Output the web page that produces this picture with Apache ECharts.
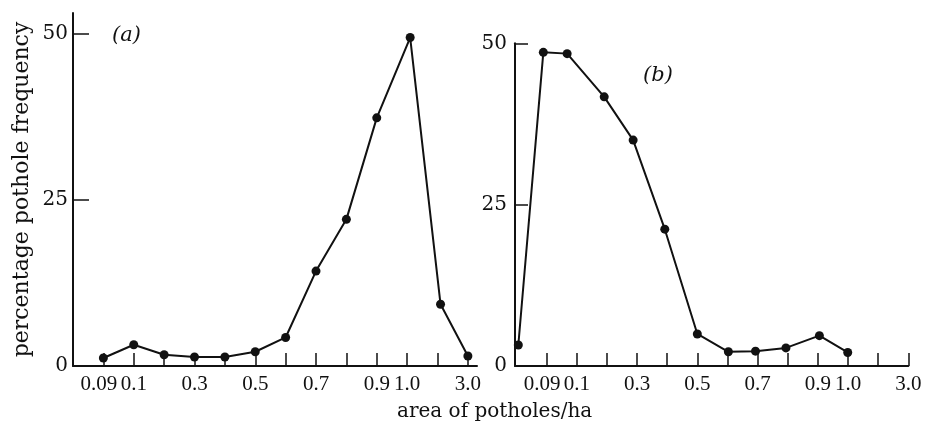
<!DOCTYPE html>
<html>
<head>
<meta charset="utf-8">
<script src="https://cdn.jsdelivr.net/npm/echarts@6/dist/echarts.min.js"></script>
<style>
  html, body { margin: 0; padding: 0; background: #fff; }
  #chart { width: 925px; height: 427px; }
</style>
</head>
<body>
<div id="chart"></div>
<script>
// area class labels (tick index -> label), same for both panels
const tickLabels = ['0.09', '0.1', '', '0.3', '', '0.5', '', '0.7', '', '0.9', '1.0', '', '3.0']
const tickIdx = [0, 1, 2, 3, 4, 5, 6, 7, 8, 9, 10, 11, 12]
// the first label sits a little left of its tick, as in the print
const labelIdx = [-0.15, 1, 3, 5, 7, 9, 10, 12]

// panel (a)
const posA = [0, 1, 2, 3, 4, 5, 6, 7, 8, 9, 10.1, 11.1, 12]
const freqA = [1.2, 3.2, 1.7, 1.35, 1.35, 2.15, 4.3, 14.3, 22.1, 37.4, 49.5, 9.3, 1.5]

// panel (b)
const posB = [-0.94, -0.11, 0.68, 1.91, 2.87, 3.92, 5.0, 6.03, 6.93, 7.94, 9.05, 9.99]
const freqB = [3.25, 48.6, 48.4, 41.7, 35.0, 21.2, 4.96, 2.2, 2.3, 2.8, 4.7, 2.1]

const yTicks = [25, 50]
const yLabels = [0, 25, 50]

const serif = '"DejaVu Serif", serif'
const tickFont = '"Liberation Serif", serif'
const ink = '#111'

const chart = echarts.init(document.getElementById('chart'))

const xAxisBase = (gridIndex, min, max) => ({
  type: 'value',
  gridIndex,
  min,
  max,
  splitLine: { show: false },
  axisLine: { onZero: false, lineStyle: { color: ink, width: 2 } },
  axisTick: {
    inside: true,
    length: 13,
    customValues: tickIdx,
    lineStyle: { color: ink, width: 1.5 },
  },
  axisLabel: {
    customValues: labelIdx,
    formatter: (v) => tickLabels[Math.round(v)] || '',
    color: ink,
    fontFamily: tickFont,
    fontSize: 21,
    margin: 8,
    hideOverlap: false,
    showMinLabel: true,
    showMaxLabel: true,
  },
})

const yAxisBase = (gridIndex, max, tickLen, margin) => ({
  type: 'value',
  gridIndex,
  min: 0,
  max,
  splitLine: { show: false },
  axisLine: { show: true, onZero: false, lineStyle: { color: ink, width: 2 } },
  axisTick: {
    show: true,
    inside: true,
    length: tickLen,
    customValues: yTicks,
    lineStyle: { color: ink, width: 1.5 },
  },
  axisLabel: {
    customValues: yLabels,
    color: ink,
    fontFamily: serif,
    fontSize: 20,
    margin,
    showMinLabel: true,
    showMaxLabel: true,
  },
})

const seriesStyle = {
  type: 'line',
  symbol: 'circle',
  symbolSize: 9,
  lineStyle: { color: ink, width: 2 },
  itemStyle: { color: ink },
  silent: true,
}

const option = {
  backgroundColor: '#fff',
  animation: false,
  title: [
    {
      text: '(a)',
      left: 107,
      top: 20,
      textStyle: { fontFamily: serif, fontStyle: 'italic', fontWeight: 'normal', fontSize: 21, color: ink },
    },
    {
      text: '(b)',
      left: 638,
      top: 60,
      textStyle: { fontFamily: serif, fontStyle: 'italic', fontWeight: 'normal', fontSize: 21, color: ink },
    },
    {
      text: 'area of potholes/ha',
      left: 392,
      top: 397,
      textStyle: { fontFamily: serif, fontWeight: 'normal', fontSize: 20, color: ink },
    },
  ],
  grid: [
    { left: 73, top: 13, width: 404, height: 353 },
    { left: 515, top: 43.3, width: 393.3, height: 322.7 },
  ],
  xAxis: [xAxisBase(0, -1, 12.3), xAxisBase(1, -1.05, 12)],
  yAxis: [
    Object.assign(yAxisBase(0, 53.2, 16, 5), {
      name: 'percentage pothole frequency',
      nameLocation: 'middle',
      nameRotate: 90,
      nameGap: 40,
      nameTextStyle: { fontFamily: serif, fontSize: 22, color: ink },
    }),
    yAxisBase(1, 50, 13, 8),
  ],
  series: [
    Object.assign({ xAxisIndex: 0, yAxisIndex: 0, data: posA.map((x, i) => [x, freqA[i]]) }, seriesStyle),
    Object.assign({ xAxisIndex: 1, yAxisIndex: 1, data: posB.map((x, i) => [x, freqB[i]]) }, seriesStyle),
  ],
}

chart.setOption(option)
</script>
</body>
</html>
